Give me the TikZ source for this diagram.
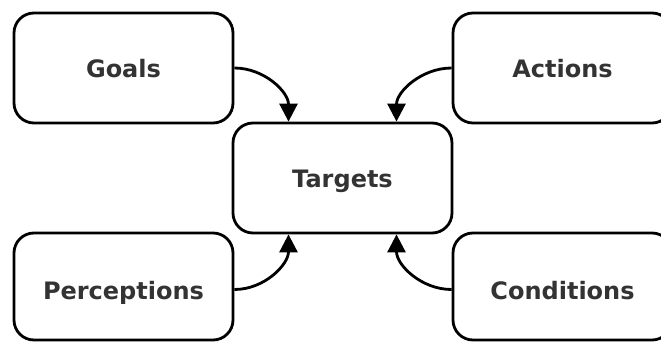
\documentclass[tikz,border=0pt]{standalone}
\usepackage{fontspec}
\setmainfont{DejaVu Sans}
\usepackage{xcolor}
\usepackage{tikz}
\usetikzlibrary{arrows,positioning,calc,arrows.meta}
\definecolor{labelgray}{HTML}{333333}

\begin{document}
\begin{tikzpicture}[x=1pt,y=1pt,
        box/.style={draw, line width=2.8pt, rounded corners=20pt,
            minimum width=219pt, minimum height=110pt, inner sep=0pt,
            text height=20pt, text depth=1.5pt,
            text=labelgray, font=\fontsize{24}{28}\selectfont\bfseries},
        lowbox/.style={box, minimum height=107pt, text height=27pt, text depth=1pt},
        flow/.style={line width=2.8pt, -{Triangle[length=18pt,width=18pt]}}]
        \useasboundingbox (0,0) rectangle (661,341);

        % Top row
        \node[box] (goals) at (123.5,273) {Goals};
        \node[box] (actions) at (562.5,273) {Actions};

        % Middle
        \node[box] (targets) at (342.5,163) {Targets};

        % Bottom row
        \node[lowbox] (perceptions) at (123.5,54.5) {Perceptions};
        \node[lowbox] (conditions) at (562.5,54.5) {Conditions};

        % Connectors
        \draw[flow] (goals.east) to[out=0,in=90] ([xshift=-54pt]targets.north);
        \draw[flow] (actions.west) to[out=180,in=90] ([xshift=54pt]targets.north);
        \draw[flow] ([yshift=-3pt]perceptions.east) to[out=0,in=-90] ([xshift=-54pt]targets.south);
        \draw[flow] ([yshift=-3pt]conditions.west) to[out=180,in=-90] ([xshift=54pt]targets.south);
    \end{tikzpicture}
\end{document}
